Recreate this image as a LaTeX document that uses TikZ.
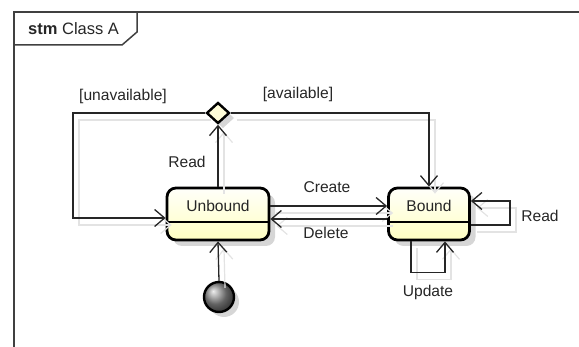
\documentclass[tikz,border=0pt]{standalone}
\usepackage{fontspec}
\setmainfont{Liberation Sans}
\usetikzlibrary{arrows.meta,calc,shapes.geometric,shadows}

% all transitions of the state machine, drawn with the style given as #1
\newcommand\drawwires[1]{%
  % Read: Unbound -> choice
  \draw[#1] (unbound.north) -- (choice.south);
  % [unavailable]: choice -> Unbound
  \draw[#1] (choice.west) -| (ucorner) |- ($(unbound.west)+(0,4)$);
  % [available]: choice -> Bound
  \draw[#1] (choice.east) -| (bound.north);
  % Create / Delete
  \draw[#1] ($(unbound.east)+(0,-8)$) -- ($(bound.west)+(0,-8)$);
  \draw[#1] ($(bound.west)+(0,5)$) -- ($(unbound.east)+(0,5)$);
  % Read self loop on Bound
  \draw[#1] ($(bound.east)+(0,11)$) -- (rloopA) -- (rloopB) -- ($(bound.east)+(0,-13)$);
  % Update self loop on Bound
  \draw[#1] ($(bound.south)+(-18,0)$) -- (uloopA) -- (uloopB) -- ($(bound.south)+(16,0)$);
  % initial pseudostate -> Unbound
  \draw[#1] (init.north) -- (unbound.south);
}

\begin{document}
\begin{tikzpicture}[x=1pt,y=-1pt,
  font=\fontsize{15.6}{18}\selectfont,
  conn/.style={draw=black!85, line width=1.3pt,
    -{Straight Barb[length=10pt,width=17pt,line width=1.3pt]}},
  ghost/.style={draw=black!11, line width=1.2pt,
    -{Straight Barb[length=10pt,width=17pt,line width=1.2pt]}},
  state/.style={draw=black, line width=2.8pt, rounded corners=9pt,
    minimum height=52pt, inner sep=0pt,
    top color=yellow!2, bottom color=yellow!24,
    drop shadow={shadow xshift=6pt, shadow yshift=-6pt, fill=black!16, opacity=1}},
  choicebox/.style={diamond, draw=black, line width=2.4pt, inner sep=0pt,
    minimum width=23pt, minimum height=21pt, fill=yellow!15,
    drop shadow={shadow xshift=5pt, shadow yshift=-5pt, fill=black!16, opacity=1}},
  startdot/.style={circle, draw=black, line width=2.4pt, inner sep=0pt,
    minimum size=30pt, shading=ball, ball color=black!45,
    drop shadow={shadow xshift=5pt, shadow yshift=-5pt, fill=black!16, opacity=1}},
  lbl/.style={inner sep=0pt, text=black!85},
  framel/.style={draw=black!75, line width=1.5pt}
]
\useasboundingbox (0,0) rectangle (579,347);

% diagram frame with its name tab
\draw[framel] (14,347) -- (14,12) -- (579,12);
\draw[framel] (14,45) -- (122,45) -- (137,32) -- (137,12);
\node[lbl, anchor=west, font=\fontsize{16.5}{19}\selectfont] (title) at (28,29) {\textbf{stm} Class A};

% states and pseudostates
\node[state, minimum width=102pt] (unbound) at (218,214) {};
\node[state, minimum width=81pt] (bound) at (429,214) {};
\node[choicebox] (choice) at (218,113) {};
\node[startdot] (init) at (219,297) {};

% state names and compartment lines
\node[lbl] (unboundname) at ($(unbound.north)+(0,19)$) {Unbound};
\node[lbl] (boundname) at ($(bound.north)+(0,19)$) {Bound};
\draw[line width=1.3pt] ($(unbound.west)+(0,8)$) -- ($(unbound.east)+(0,8)$);
\draw[line width=1.3pt] ($(bound.west)+(0,8)$) -- ($(bound.east)+(0,8)$);

% bend points of the routed transitions
\coordinate (ucorner) at (73,113);
\coordinate (rloopA) at (510,225);
\coordinate (rloopB) at (510,201);
\coordinate (uloopA) at ($(bound.south)+(-18,31)$);
\coordinate (uloopB) at ($(bound.south)+(16,31)$);

% faint shadows of the transitions, then the transitions
\begin{scope}[transform canvas={xshift=6pt,yshift=-7pt}]
  \drawwires{ghost}
\end{scope}
\drawwires{conn}

% transition labels
\node[lbl] (lunavail) at (123,96) {[unavailable]};
\node[lbl] (lavail) at (298,94) {[available]};
\node[lbl] (lread1) at (187,162) {Read};
\node[lbl] (lcreate) at (327,187) {Create};
\node[lbl] (ldelete) at (326,233) {Delete};
\node[lbl] (lread2) at (540,216) {Read};
\node[lbl] (lupdate) at (428,292) {Update};
\end{tikzpicture}
\end{document}
